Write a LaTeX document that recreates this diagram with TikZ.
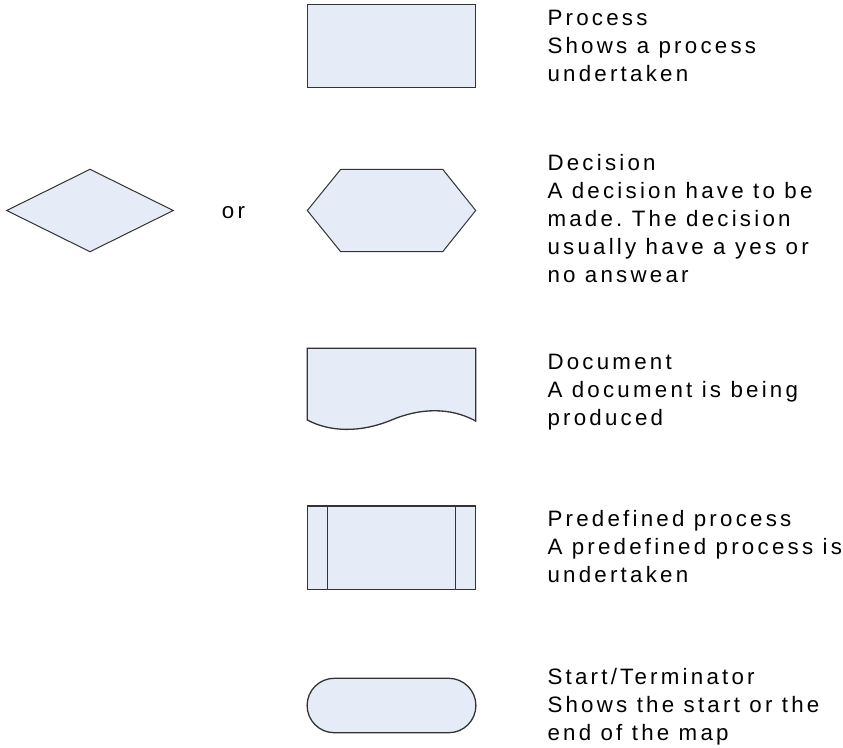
\documentclass[tikz,border=0pt]{standalone}
\usepackage{fontspec}
\setmainfont{Liberation Sans}[LetterSpace=14.5]
\frenchspacing
\begin{document}
\begin{tikzpicture}[x=1pt,y=-1pt,
  shapebox/.style={draw=black!80,line width=1.3pt,fill=shapefill,line join=miter},
  legend/.style={anchor=base west,inner sep=0pt,align=left,font=\fontsize{22.3}{28.2}\selectfont}]
\definecolor{shapefill}{HTML}{E6ECF7}
\useasboundingbox (0,0) rectangle (843,747);

% process
\draw[shapebox] (307.3,4.3) rectangle (475.7,87.3);
% decision: diamond and hexagon
\draw[shapebox,line width=1pt] (6.7,210.5) -- (90,169.3) -- (173.3,210.5) -- (90,251.7) -- cycle;
\node[inner sep=0pt,anchor=base west,font=\fontsize{22.3}{28.2}\selectfont] (or) at (221.7,218.3) {or};
\draw[shapebox,line width=1pt] (307.3,210.5) -- (340.7,169.3) -- (442.7,169.3) -- (475.7,210.5)
  -- (442.7,251.7) -- (340.7,251.7) -- cycle;
% document
\draw[shapebox] (307.3,420) -- (307.3,348.3) -- (475.7,348.3) -- (475.7,421)
  .. controls (450,407) and (420,408) .. (391.5,420)
  .. controls (360,433) and (330,432) .. (307.3,420) -- cycle;
% predefined process
\draw[shapebox] (307.3,506) rectangle (475.7,589.3);
\draw[shapebox] (327.7,506) -- (327.7,589.3) (455.3,506) -- (455.3,589.3);
% terminator
\draw[shapebox] (334.3,678.3) -- (448.7,678.3) arc[start angle=-90,end angle=90,radius=27.2]
  -- (334.3,732.7) arc[start angle=90,end angle=270,radius=27.2] -- cycle;

% legend texts, placed by the baseline of their last line
\node[legend] (tp) at (547.3,81.4) {Process\\Shows a process\\undertaken};
\node[legend] (td) at (547.3,282.8) {Decision\\A decision have to be\\made. The decision\\usually have a yes or\\no answear};
\node[legend] (tdoc) at (547.3,425.7) {Document\\A document is being\\produced};
\node[legend] (tpre) at (547.3,582.4) {Predefined process\\A predefined process is\\undertaken};
\node[legend] (tst) at (547.3,740.4) {Start/Terminator\\Shows the start or the\\end of the map};
\end{tikzpicture}
\end{document}
